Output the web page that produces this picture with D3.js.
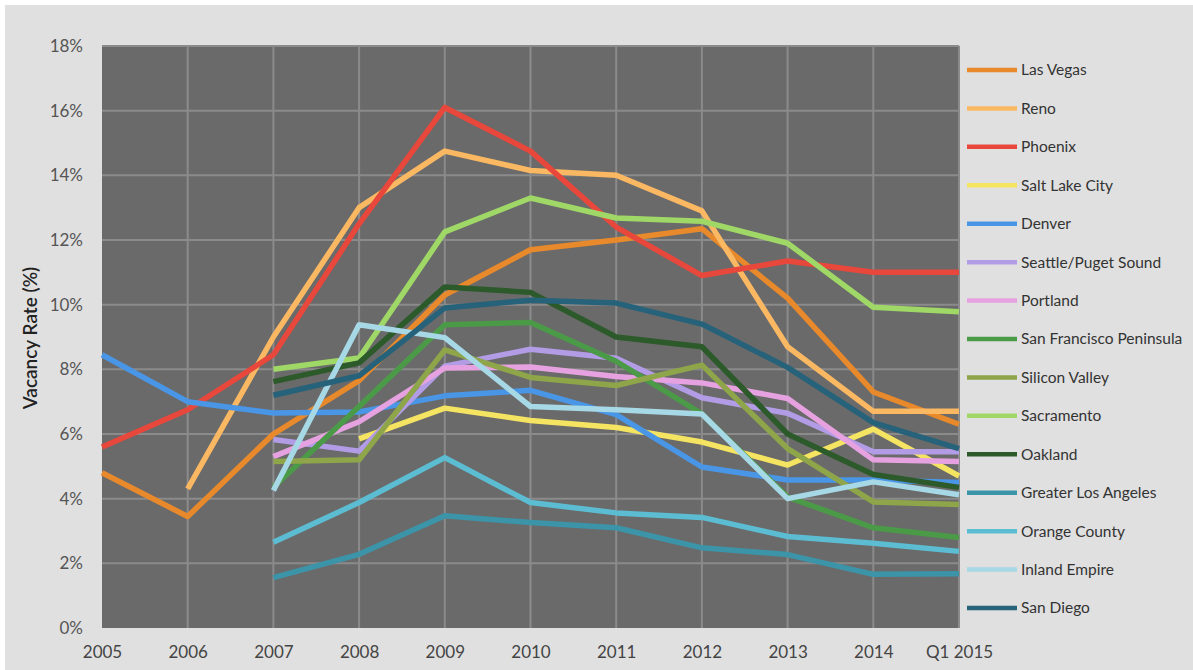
<!DOCTYPE html>
<html>
<head>
<meta charset="utf-8">
<script src="https://cdn.jsdelivr.net/npm/d3@7"></script>
<style>
  html, body { margin: 0; padding: 0; background: #ffffff; }
  svg { display: block; font-family: Lato, "Open Sans", sans-serif; }
</style>
</head>
<body>
<svg id="chart" width="1193" height="670"></svg>
<script>
// periods on the x axis
const categories = ["2005", "2006", "2007", "2008", "2009", "2010", "2011", "2012", "2013", "2014", "Q1 2015"];

// vacancy rate (%) per market, null = no data
const lasVegas      = [4.8, 3.45, 6.0, 7.65, 10.3, 11.7, 12.0, 12.35, 10.2, 7.3, 6.3];
const reno          = [null, 4.3, 9.0, 13.0, 14.75, 14.15, 14.0, 12.9, 8.7, 6.7, 6.7];
const phoenix       = [5.6, 6.75, 8.45, 12.5, 16.1, 14.75, 12.4, 10.9, 11.35, 11.0, 11.0];
const saltLakeCity  = [null, null, null, 5.85, 6.8, 6.42, 6.2, 5.75, 5.04, 6.15, 4.7];
const denver        = [8.45, 7.0, 6.65, 6.68, 7.18, 7.35, 6.6, 4.98, 4.58, 4.58, 4.5];
const seattle       = [null, null, 5.83, 5.47, 8.1, 8.62, 8.34, 7.12, 6.64, 5.45, 5.45];
const portland      = [null, null, 5.3, 6.38, 8.04, 8.07, 7.78, 7.58, 7.1, 5.2, 5.15];
const sfPeninsula   = [null, null, 4.35, 6.85, 9.38, 9.45, 8.25, 6.62, 4.05, 3.1, 2.8];
const siliconValley = [null, null, 5.15, 5.2, 8.6, 7.75, 7.5, 8.13, 5.55, 3.9, 3.82];
const sacramento    = [null, null, 8.0, 8.35, 12.25, 13.3, 12.68, 12.58, 11.9, 9.92, 9.78];
const oakland       = [null, null, 7.62, 8.2, 10.55, 10.38, 9.0, 8.7, 6.0, 4.75, 4.35];
const greaterLA     = [null, null, 1.56, 2.28, 3.47, 3.26, 3.1, 2.48, 2.27, 1.66, 1.68];
const orangeCounty  = [null, null, 2.65, 3.88, 5.27, 3.88, 3.56, 3.42, 2.83, 2.62, 2.37];
const inlandEmpire  = [null, null, 4.25, 9.38, 8.98, 6.85, 6.75, 6.62, 4.0, 4.52, 4.12];
const sanDiego      = [null, null, 7.2, 7.8, 9.9, 10.14, 10.05, 9.4, 8.06, 6.35, 5.55];

const yTicks = [0, 2, 4, 6, 8, 10, 12, 14, 16, 18];

const series = [
  { name: "Las Vegas", values: lasVegas, color: "#e8892b" },
  { name: "Reno", values: reno, color: "#fbb862" },
  { name: "Phoenix", values: phoenix, color: "#e8473c" },
  { name: "Salt Lake City", values: saltLakeCity, color: "#f5e462" },
  { name: "Denver", values: denver, color: "#4a96e6" },
  { name: "Seattle/Puget Sound", values: seattle, color: "#b39ce6" },
  { name: "Portland", values: portland, color: "#e6a2e0" },
  { name: "San Francisco Peninsula", values: sfPeninsula, color: "#4b9a48" },
  { name: "Silicon Valley", values: siliconValley, color: "#8ea54a" },
  { name: "Sacramento", values: sacramento, color: "#9fd866" },
  { name: "Oakland", values: oakland, color: "#2c5a2a" },
  { name: "Greater Los Angeles", values: greaterLA, color: "#3c94a8" },
  { name: "Orange County", values: orangeCounty, color: "#5bbcd2" },
  { name: "Inland Empire", values: inlandEmpire, color: "#a7d8e6" },
  { name: "San Diego", values: sanDiego, color: "#26627a" }
];

const svg = d3.select("#chart");

// outer light panel
svg.append("rect")
  .attr("x", 5).attr("y", 5)
  .attr("width", 1193).attr("height", 670)
  .attr("fill", "#e0e0e0");

const plot = { left: 102, right: 959, top: 46, bottom: 628 };

const x = d3.scalePoint()
  .domain(categories)
  .range([plot.left, plot.right]);

const y = d3.scaleLinear()
  .domain([0, 18])
  .range([plot.bottom, plot.top]);

// plot background
svg.append("rect")
  .attr("x", plot.left).attr("y", plot.top)
  .attr("width", plot.right - plot.left)
  .attr("height", plot.bottom - plot.top)
  .attr("fill", "#6a6a6a");

// gridlines
const grid = svg.append("g").attr("stroke", "#8b8b8b").attr("stroke-width", 2);
grid.selectAll("line.h")
  .data(yTicks.slice(1))
  .join("line")
    .attr("class", "h")
    .attr("x1", plot.left).attr("x2", plot.right)
    .attr("y1", d => y(d)).attr("y2", d => y(d));
grid.selectAll("line.v")
  .data(categories.slice(1))
  .join("line")
    .attr("class", "v")
    .attr("x1", d => x(d)).attr("x2", d => x(d))
    .attr("y1", plot.top).attr("y2", plot.bottom);

// y axis labels
const yAxis = svg.append("g")
  .attr("transform", `translate(${plot.left - 19},0)`)
  .call(d3.axisLeft(y).tickValues(yTicks).tickFormat(d => d + "%").tickSize(0).tickPadding(0));
yAxis.select(".domain").remove();
yAxis.selectAll("text")
  .attr("fill", "#555")
  .style("font-size", "17px")
  .style("font-family", "Lato, sans-serif");

// x axis labels
const xAxis = svg.append("g")
  .attr("transform", `translate(0,${plot.bottom + 18})`)
  .call(d3.axisBottom(x).tickSize(0).tickPadding(0));
xAxis.select(".domain").remove();
xAxis.selectAll("text")
  .attr("fill", "#444")
  .style("font-size", "17px")
  .style("font-family", "Lato, sans-serif");

// y axis title
svg.append("text")
  .attr("transform", "translate(37,338) rotate(-90)")
  .attr("text-anchor", "middle")
  .attr("fill", "#222")
  .style("font-size", "19px")
  .style("font-weight", 600)
  .text("Vacancy Rate (%)");

// lines
const line = d3.line()
  .defined(d => d != null)
  .x((d, i) => x(categories[i]))
  .y(d => y(d));

svg.append("g")
  .selectAll("path")
  .data(series)
  .join("path")
    .attr("fill", "none")
    .attr("stroke", d => d.color)
    .attr("stroke-width", 5.5)
    .attr("stroke-linejoin", "round")
    .attr("d", d => line(d.values));

// legend
const legend = svg.append("g")
  .selectAll("g")
  .data(series)
  .join("g")
    .attr("transform", (d, i) => `translate(967,${70 + i * 38.43})`);

legend.append("line")
  .attr("x1", 0).attr("x2", 50)
  .attr("stroke", d => d.color)
  .attr("stroke-width", 4.5);

legend.append("text")
  .attr("x", 54)
  .attr("dy", "0.35em")
  .attr("fill", "#333")
  .style("font-size", "15.5px")
  .text(d => d.name);
</script>
</body>
</html>
